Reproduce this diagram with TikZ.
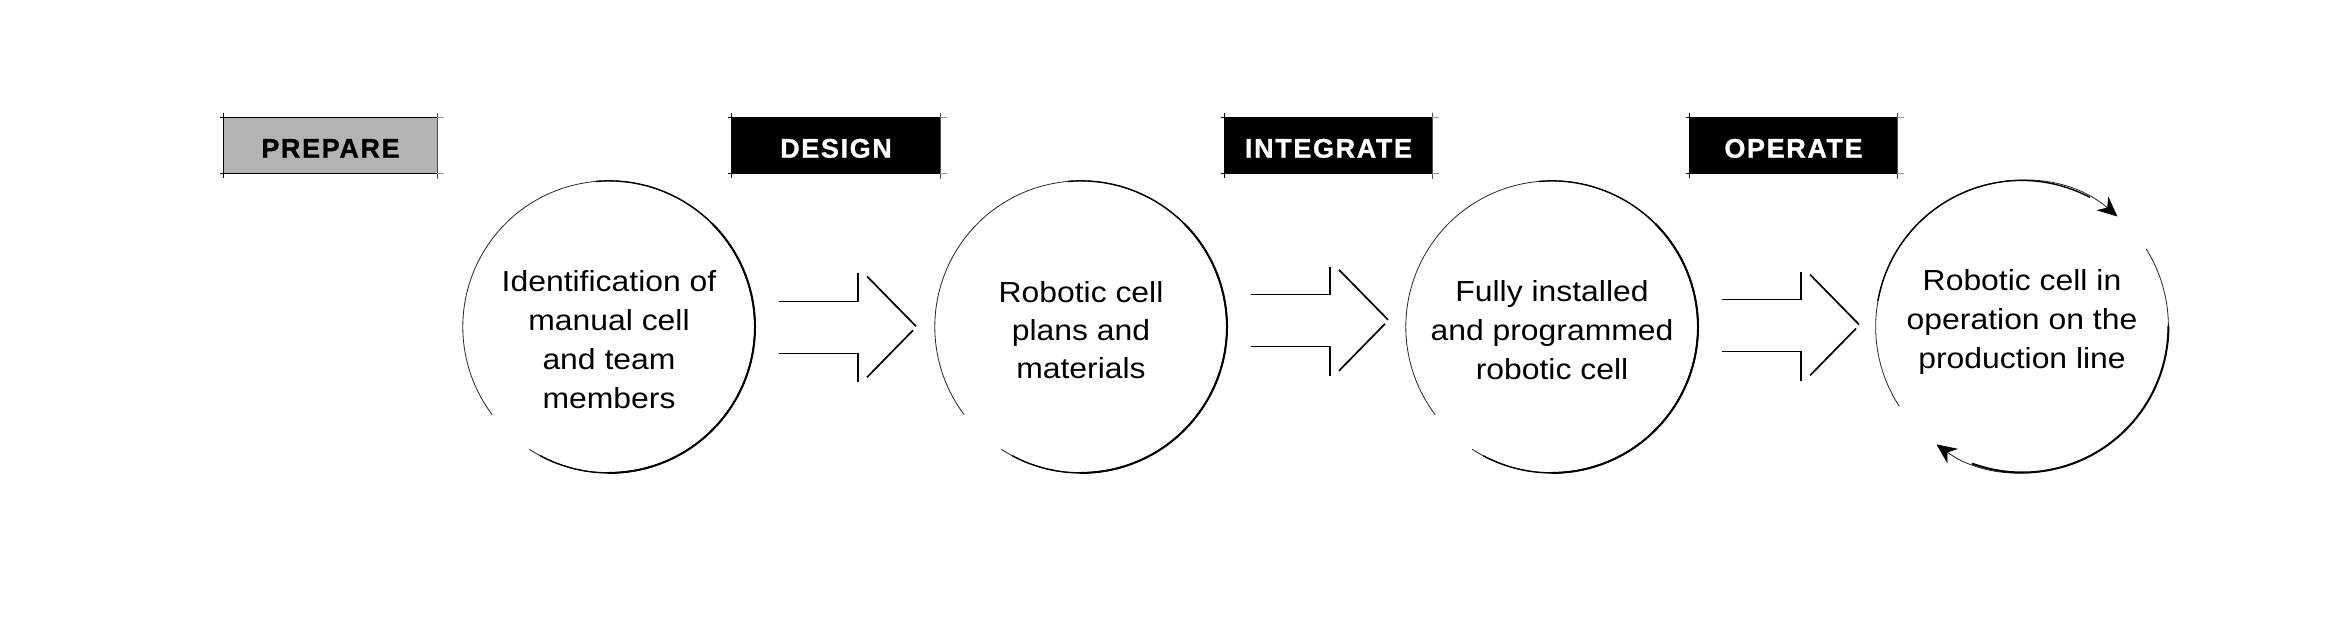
\documentclass[tikz,border=0pt]{standalone}
\usepackage{fontspec}
\setmainfont{Liberation Sans}[FakeStretch=1.1]
\newfontfamily\lblfont{Liberation Sans}[LetterSpace=6, BoldFeatures={FakeBold=1}]
\usetikzlibrary{arrows.meta,calc}
\definecolor{prepgray}{RGB}{178,179,181}
\newcommand\cstrut{\rule[-7pt]{0pt}{18pt}}
\begin{document}
\begin{tikzpicture}[x=0.5pt,y=-0.5pt,
  lbl/.style={minimum height=27.5pt, inner sep=0pt, text height=12.2pt, text depth=0pt,
    font=\lblfont\bfseries\fontsize{13.5pt}{16pt}\selectfont},
  darklbl/.style={lbl, fill=black, text=white},
  greylbl/.style={lbl, fill=prepgray, text=black},
  ring/.style={circle, minimum size=146pt, inner sep=0pt},
  ctext/.style={align=center, inner sep=0pt, font=\fontsize{14.5pt}{19.5pt}\selectfont},
  thinring/.style={line width=0.4pt, draw=black!85},
  midring/.style={line width=0.7pt},
  thickring/.style={line width=1pt, line cap=round},
  shaft/.style={line width=0.65pt},
  headline/.style={line width=0.85pt},
  sketch/.style={line width=0.6pt},
  sketchext/.style={line width=0.3pt, draw=black!40},
  looptip/.style={-{Stealth[length=10pt,width=9pt,color=black]}},
]
\useasboundingbox (0,0) rectangle (2333,631);
\fill[white] (0,0) rectangle (2333,631);

% stage labels
\node[greylbl, minimum width=106.5pt] (prep) at (330.5,145.5) {PREPARE};
\node[darklbl, minimum width=104pt] (design) at (836,145.5) {DESIGN};
\node[darklbl, minimum width=103.5pt] (integ) at (1328.5,145.5) {INTEGRATE};
\node[darklbl, minimum width=103.5pt] (oper) at (1793.5,145.5) {OPERATE};
\foreach \n in {prep,design,integ,oper} {
  \draw[sketch] ([yshift=2.5pt]\n.north west) -- ([yshift=-2.5pt]\n.south west);
  \draw[sketch, draw=black!70] ([yshift=2.5pt]\n.north east) -- ([yshift=-3pt]\n.south east);
  \draw[sketch] ([xshift=-2pt]\n.north west) -- (\n.north east);
  \draw[sketch] ([xshift=-2pt]\n.south west) -- (\n.south east);
  \draw[sketchext] (\n.north east) -- ([xshift=3.5pt]\n.north east);
  \draw[sketchext] (\n.south east) -- ([xshift=3.5pt]\n.south east);
}

% circles
\node[ring] (c1) at (609,326.5) {};
\node[ring] (c2) at (1081,326.5) {};
\node[ring] (c3) at (1552,326.5) {};
\node[ring] (c4) at (2022,326.5) {};
\foreach \n in {c1,c2,c3} {
  \draw[thinring] (\n.237) arc[start angle=237, end angle=577, radius=73pt];
  \draw[midring] (\n.242) arc[start angle=242, end angle=455, radius=73pt];
  \draw[thickring] (\n.270) arc[start angle=270, end angle=405, radius=73pt];
}
% looping circle
\draw[thinring, looptip] (c4.213) arc[start angle=213, end angle=49, radius=73pt];
\draw[midring] (c4.170) arc[start angle=170, end angle=62, radius=73pt];
\draw[thinring, looptip] (c4.32) arc[start angle=32, end angle=-126, radius=73pt];
\draw[thickring] (c4.east) arc[start angle=0, end angle=-110, radius=73pt];

% circle texts
\node[ctext] (t1) at (609,346.2)
  {\cstrut Identification of\\\cstrut manual cell\\\cstrut and team\\\cstrut members};
\node[ctext, font=\fontsize{14.5pt}{19pt}\selectfont] (t2) at (1081,336.3)
  {\cstrut Robotic cell\\\cstrut plans and\\\cstrut materials};
\node[ctext] (t3) at (1552,336)
  {\cstrut Fully installed\\\cstrut and programmed\\\cstrut robotic cell};
\node[ctext] (t4) at (2022,325)
  {\cstrut Robotic cell in\\\cstrut operation on the\\\cstrut production line};

% block arrows between circles
\coordinate (a1) at ($(c1.center)+(170,0.8)$);
\coordinate (a2) at ($(c2.center)+(170,-5.7)$);
\coordinate (a3) at ($(c3.center)+(170,-1)$);
\foreach \a in {a1,a2,a3} {
  \draw[shaft] ($(\a)+(0,-26)$) -- ($(\a)+(79,-26)$) -- ($(\a)+(79,-54)$);
  \draw[shaft] ($(\a)+(0,26)$) -- ($(\a)+(79,26)$) -- ($(\a)+(79,55)$);
  \draw[headline] ($(\a)+(88,-51)$) -- ($(\a)+(137,-1)$);
  \draw[headline] ($(\a)+(88,50)$) -- ($(\a)+(134,3)$);
}
\end{tikzpicture}
\end{document}
